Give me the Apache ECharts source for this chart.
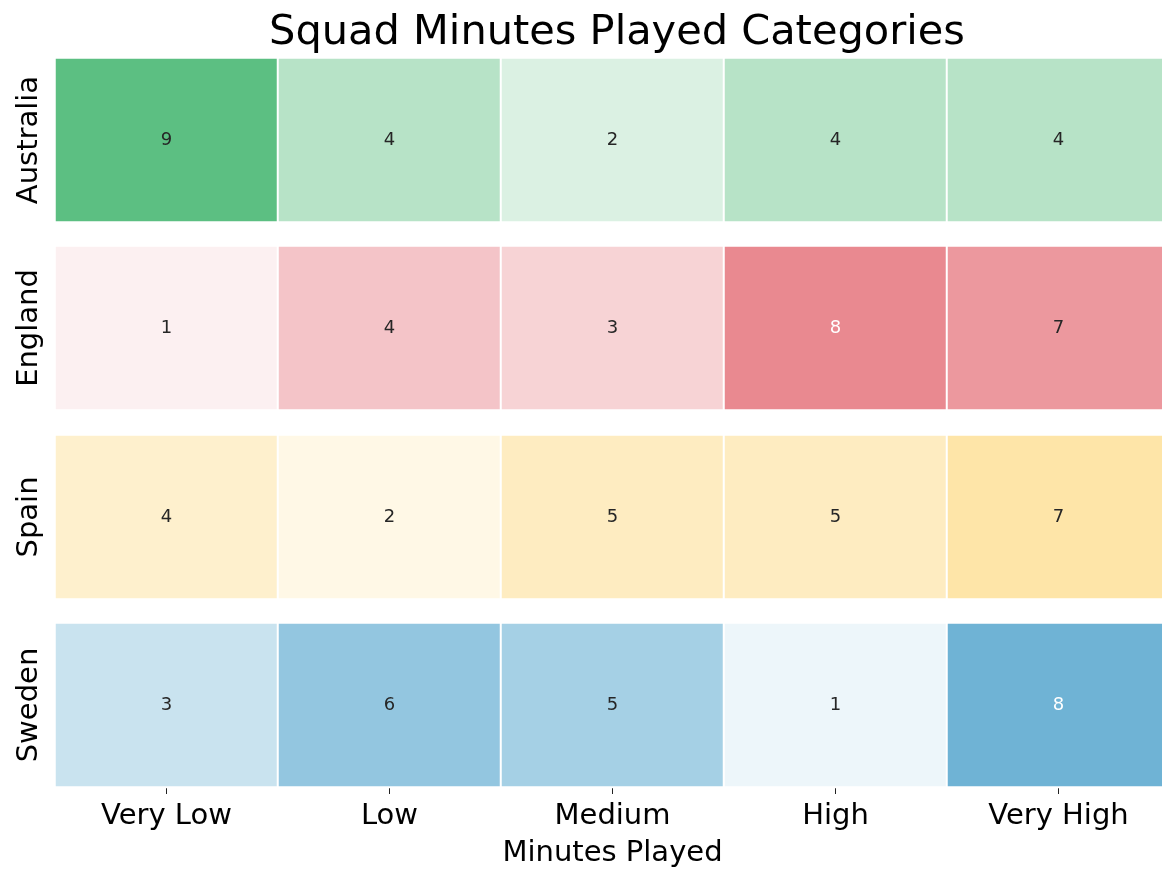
<!DOCTYPE html>
<html>
<head>
<meta charset="utf-8">
<title>Squad Minutes Played Categories</title>
<script src="https://cdn.jsdelivr.net/npm/echarts@6/dist/echarts.min.js"></script>
<style>
    html, body { margin: 0; padding: 0; background: #fff; }
    #chart { width: 1162px; height: 870px; }
</style>
</head>
<body>
<div id="chart"></div>
<script>
const categories = ['Very Low', 'Low', 'Medium', 'High', 'Very High']
const countries = ['Australia', 'England', 'Spain', 'Sweden']

const australia = [9, 4, 2, 4, 4]
const england = [1, 4, 3, 8, 7]
const spain = [4, 2, 5, 5, 7]
const sweden = [3, 6, 5, 1, 8]

const rows = [australia, england, spain, sweden]
const rowColors = ['#5cbf82', '#e98990', '#fee5a8', '#6fb3d5']

const FONT = 'DejaVu Sans'
const gridTops = [58, 246, 435, 623]
const gridHeight = 164

// seaborn-like annotation colour: dark text on light cells, white on dark
const luminance = (rgb) => {
    const lin = rgb.slice(0, 3).map(c => {
        c = c / 255
        return c <= 0.03928 ? c / 12.92 : Math.pow((c + 0.055) / 1.055, 2.4)
    })
    return 0.2126 * lin[0] + 0.7152 * lin[1] + 0.0722 * lin[2]
}

const chart = echarts.init(document.getElementById('chart'))

const grids = []
const xAxes = []
const yAxes = []
const visualMaps = []
const series = []

rows.forEach((row, i) => {
    const max = Math.max(...row)
    const isLast = i === rows.length - 1

    grids.push({
        left: 55,
        width: 1115,
        top: gridTops[i],
        height: gridHeight,
        outerBoundsMode: 'none',
        containLabel: false,
    })

    xAxes.push({
        type: 'category',
        gridIndex: i,
        data: categories,
        axisLine: { show: false },
        axisTick: {
            show: isLast,
            alignWithLabel: true,
            length: 7,
            lineStyle: { color: '#222', width: 1 },
        },
        axisLabel: {
            show: isLast,
            color: '#000',
            fontFamily: FONT,
            fontSize: 29,
            margin: 15,
        },
        splitLine: { show: false },
        name: isLast ? 'Minutes Played' : '',
        nameLocation: 'middle',
        nameGap: 52,
        nameTextStyle: { color: '#000', fontFamily: FONT, fontSize: 29 },
    })

    yAxes.push({
        type: 'category',
        gridIndex: i,
        data: [countries[i]],
        axisLine: { show: false },
        axisTick: { show: false },
        axisLabel: {
            rotate: 90,
            color: '#000',
            fontFamily: FONT,
            fontSize: 29,
            margin: 11,
        },
        splitLine: { show: false },
    })

    visualMaps.push({
        type: 'continuous',
        show: false,
        seriesIndex: i,
        dimension: 2,
        min: 0,
        max: max,
        inRange: { color: ['#ffffff', rowColors[i]] },
    })

    series.push({
        type: 'heatmap',
        xAxisIndex: i,
        yAxisIndex: i,
        itemStyle: { borderColor: '#ffffff', borderWidth: 2 },
        emphasis: { disabled: true },
        label: {
            show: true,
            fontFamily: FONT,
            fontSize: 18,
            formatter: p => p.value[2],
        },
        data: row.map((v, j) => {
            const cell = echarts.color.parse(echarts.color.lerp(v / max, ['#ffffff', rowColors[i]]))
            return {
                value: [j, 0, v],
                label: { color: luminance(cell) > 0.408 ? '#262626' : '#ffffff' },
            }
        }),
    })
})

chart.setOption({
    animation: false,
    backgroundColor: '#ffffff',
    title: {
        text: 'Squad Minutes Played Categories',
        left: 612,
        textAlign: 'center',
        top: 7,
        textStyle: { color: '#000', fontFamily: FONT, fontSize: 41.5, fontWeight: 'normal' },
    },
    grid: grids,
    xAxis: xAxes,
    yAxis: yAxes,
    visualMap: visualMaps,
    series: series,
})
</script>
</body>
</html>
